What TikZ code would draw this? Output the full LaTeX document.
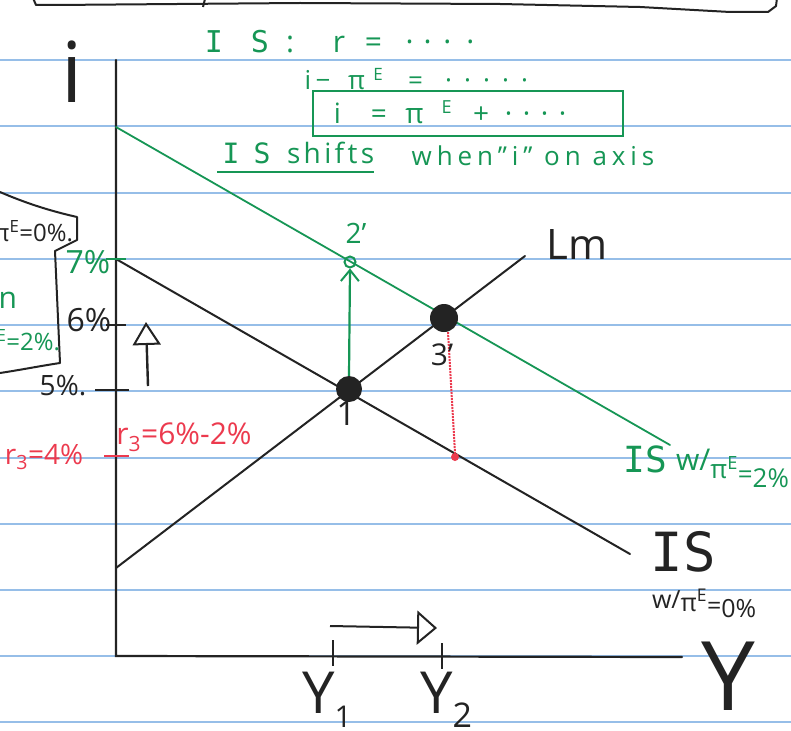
\documentclass[tikz,border=0pt]{standalone}
\usepackage{fontspec}
\setmainfont{Open Sans}
\newfontfamily\mono{DejaVu Sans Mono}
\usetikzlibrary{arrows.meta}
\definecolor{pen}{RGB}{35,35,35}
\definecolor{pengreen}{RGB}{22,150,85}
\definecolor{penred}{RGB}{236,58,78}
\definecolor{rule}{RGB}{150,190,232}
\newcommand{\fsz}[1]{\fontsize{#1}{#1}\selectfont}
\newcommand{\lsp}[1]{\addfontfeature{LetterSpace=#1}}
\newcommand{\supE}{\textsuperscript{E}}
\newcommand{\dt}{\makebox[7pt]{·}}
\tikzset{
  txt/.style={inner sep=0pt, outer sep=0pt, anchor=center},
  ruleline/.style={rule, line width=1.6pt},
  axis/.style={pen, line width=2.2pt, line cap=round},
  curve/.style={pen, line width=2pt, line cap=round},
  gcurve/.style={pengreen, line width=1.8pt, line cap=round},
  tick/.style={line width=2pt},
  blob/.style={circle, fill=pen, minimum size=26pt, inner sep=0pt},
}
\begin{document}
\begin{tikzpicture}[x=1pt,y=-1pt]
\useasboundingbox (0,0) rectangle (791,730);
\clip (0,0) rectangle (791,730);
\fill[white] (0,0) rectangle (791,730);
% notebook rule lines
\foreach \yy in {60,126,193,259,325,391,458,524,590,656,722}
  \draw[ruleline] (0,\yy) -- (791,\yy);
% top box edge
\draw[pen, line width=2pt, line join=round] (33,-2) -- (36,5) -- (55,5) -- (300,3) -- (500,4) -- (640,7) -- (730,12) -- (768,12) -- (776,6) -- (777,-2);
\draw[pen, line width=2pt] (205,-1) -- (203,7);
% left bubble
\draw[pen, line width=2pt, line join=round] (0,192) .. controls (30,205) and (55,212) .. (77,217) -- (77,240) -- (55,251) -- (60,363) .. controls (40,366) and (20,370) .. (0,373);
\node[txt, pen, anchor=east, font=\fsz{24}] (bubbleA) at (73,231) {w/π\supE=0\%.};
\node[txt, pengreen, anchor=east, font=\fsz{30}] (bubbleB) at (17,300) {n};
\node[txt, pengreen, anchor=east, font=\fsz{24}] (bubbleC) at (60,340) {w/π\supE=2\%.};
% coordinates
\coordinate (O) at (116,656);
\coordinate (ytop) at (116,60);
\coordinate (xend) at (682,657);
\coordinate (lm0) at (116,568);
\coordinate (lm1) at (525,256);
\coordinate (is0) at (116,259);
\coordinate (is1) at (630,554);
\coordinate (gis0) at (116,127);
\coordinate (gis1) at (670,445);
% axes
\draw[axis] (ytop) -- (O) -- (xend);
% curves
\draw[curve] (lm0) -- (lm1);
\draw[curve] (is0) -- (is1);
\draw[gcurve] (gis0) -- (gis1);
% points
\node[blob] (p1) at (349,389) {};
\node[blob, minimum size=28pt] (p3) at (444,318) {};
\node[circle, draw=pengreen, line width=2pt, minimum size=11pt, inner sep=0pt] (p2) at (350,262) {};
\node[circle, fill=penred, minimum size=8pt, inner sep=0pt] (pr) at (455,457) {};
\draw[pengreen, line width=2.2pt, -{Straight Barb[length=11pt,width=18pt,line width=2pt]}] (p1.north) -- (p2.south);
\draw[penred, line width=2pt, densely dotted] (p3.south) ++(4,0) -- (pr.north);
% point labels
\node[txt, pen, font=\fsz{34}] (l1) at (346,413) {1};
\node[txt, pen, font=\fsz{30}] (l3) at (442,355) {3'};
\node[txt, pengreen, font=\fsz{28}] (l2) at (356,233) {2'};
% y-axis ticks and labels
\coordinate (t7a) at (106,259); \coordinate (t7b) at (126,259);
\coordinate (t6a) at (106,325); \coordinate (t6b) at (126,325);
\coordinate (t5a) at (95,390);  \coordinate (t5b) at (129,390);
\coordinate (t4a) at (104,456); \coordinate (t4b) at (129,456);
\draw[tick, pengreen] (t7a) -- (t7b);
\draw[tick, pen] (t6a) -- (t6b);
\draw[tick, pen] (t5a) -- (t5b);
\draw[tick, penred] (t4a) -- (t4b);
\node[txt, pengreen, font=\fsz{32}] (l7) at (88,262) {7\%};
\node[txt, pen, font=\fsz{32}] (l6) at (89,320) {6\%};
\node[txt, pen, font=\fsz{28}] (l5) at (63,386) {5\%.};
\node[txt, penred, font=\fsz{28}] (l4) at (44,457) {r\textsubscript{3}=4\%};
\node[txt, penred, font=\fsz{30}] (lr3) at (184,437) {r\textsubscript{3}=6\%-2\%};
% up arrow
\coordinate (ua0) at (148,386);
\coordinate (ua1) at (146,322);
\draw[pen, line width=2.4pt, -{Triangle[open,length=23pt,width=28pt,line width=2pt]}] (ua0) -- (ua1);
% x-axis ticks and right arrow
\coordinate (y1a) at (333,640); \coordinate (y1b) at (333,666);
\coordinate (y2a) at (442,643); \coordinate (y2b) at (442,669);
\draw[tick, pen] (y1a) -- (y1b);
\draw[tick, pen] (y2a) -- (y2b);
\coordinate (ra0) at (330,626);
\coordinate (ra1) at (437,628);
\draw[pen, line width=2pt, -{Triangle[open,length=20pt,width=34pt,line width=2pt]}] (ra0) -- (ra1);
\node[txt, pen, font=\fsz{58}] (ly1) at (327,700) {Y\raisebox{-14pt}{\fsz{30}1}};
\node[txt, pen, font=\fsz{58}] (ly2) at (446,700) {Y\raisebox{-14pt}{\fsz{34}2}};
% axis labels
\node[txt, pen, font=\fsz{84}] (li) at (72,72) {i};
\node[txt, pen, font=\fsz{96}] (lY) at (728,676) {Y};
% curve labels
\node[txt, pen, font=\fsz{42}] (lLM) at (577,245) {Lm};
\node[txt, pen, anchor=base, text depth=0pt, font=\mono\fsz{54}] (lIS) at (683,571) {IS};
\node[txt, pen, anchor=base west, font=\fsz{25}] (lIS0) at (652,608)
  {w/\raisebox{-3pt}{π\supE}\raisebox{-6pt}{=}\raisebox{-9pt}{0\%}};
\node[txt, pengreen, font=\mono\fsz{36}] (lGIS) at (645,459) {IS};
\node[txt, pengreen, anchor=west, font=\fsz{26}] (lGIS2) at (676,468)
  {{\fsz{30}w/}\raisebox{-8pt}{π\supE}\raisebox{-13pt}{=}\raisebox{-17pt}{2\%}};
% top notes
\node[txt, pengreen, anchor=west, font=\fsz{30}] (n1) at (198,42)
  {\makebox[32pt]{\mono I}\hspace{20pt}\makebox[20pt]{\mono S}\hspace{12pt}\makebox[16pt]{:}\hspace{33pt}\makebox[16pt]{r}\hspace{14pt}\makebox[25pt]{=}\hspace{20pt}\dt\hspace{11pt}\dt\hspace{13pt}\dt\hspace{16pt}\dt};
\node[txt, pengreen, anchor=west, font=\fsz{26}] (n2) at (303,79)
  {\makebox[10pt]{i}\hspace{3pt}\makebox[14pt]{−}\hspace{15pt}\makebox[23pt]{π}\hspace{4pt}\makebox[12pt]{\raisebox{9pt}{\fsz{17}E}}\hspace{19pt}\makebox[25pt]{=}\hspace{17pt}\dt\hspace{12pt}\dt\hspace{12pt}\dt\hspace{12pt}\dt\hspace{12pt}\dt};
\node[draw=pengreen, line width=2pt, minimum width=310pt, minimum height=45pt, inner sep=0pt] (box) at (468,114) {};
\node[txt, pengreen, anchor=west, font=\fsz{28}] (n3) at (332,112)
  {\makebox[11pt]{i}\hspace{22pt}\makebox[28pt]{=}\hspace{9pt}\makebox[25pt]{π}\hspace{12pt}\makebox[15pt]{\raisebox{10pt}{\fsz{18}E}}\hspace{17pt}\makebox[20pt]{+}\hspace{14pt}\dt\hspace{11pt}\dt\hspace{11pt}\dt\hspace{11pt}\dt};
\node[txt, pengreen, anchor=west, font=\fsz{28}] (n4) at (217,153)
  {\makebox[28pt]{\mono I}\hspace{7pt}\makebox[20pt]{\mono S}\hspace{15pt}{\lsp{12}shifts}};
\draw[pengreen, line width=2.4pt] (n4.south west) ++(0,8) coordinate (u0) -- (n4.south east |- u0);
\node[txt, pengreen, font=\fsz{26}\lsp{19}] (n5) at (533,156) {when"i" on axis};
\end{tikzpicture}
\end{document}
